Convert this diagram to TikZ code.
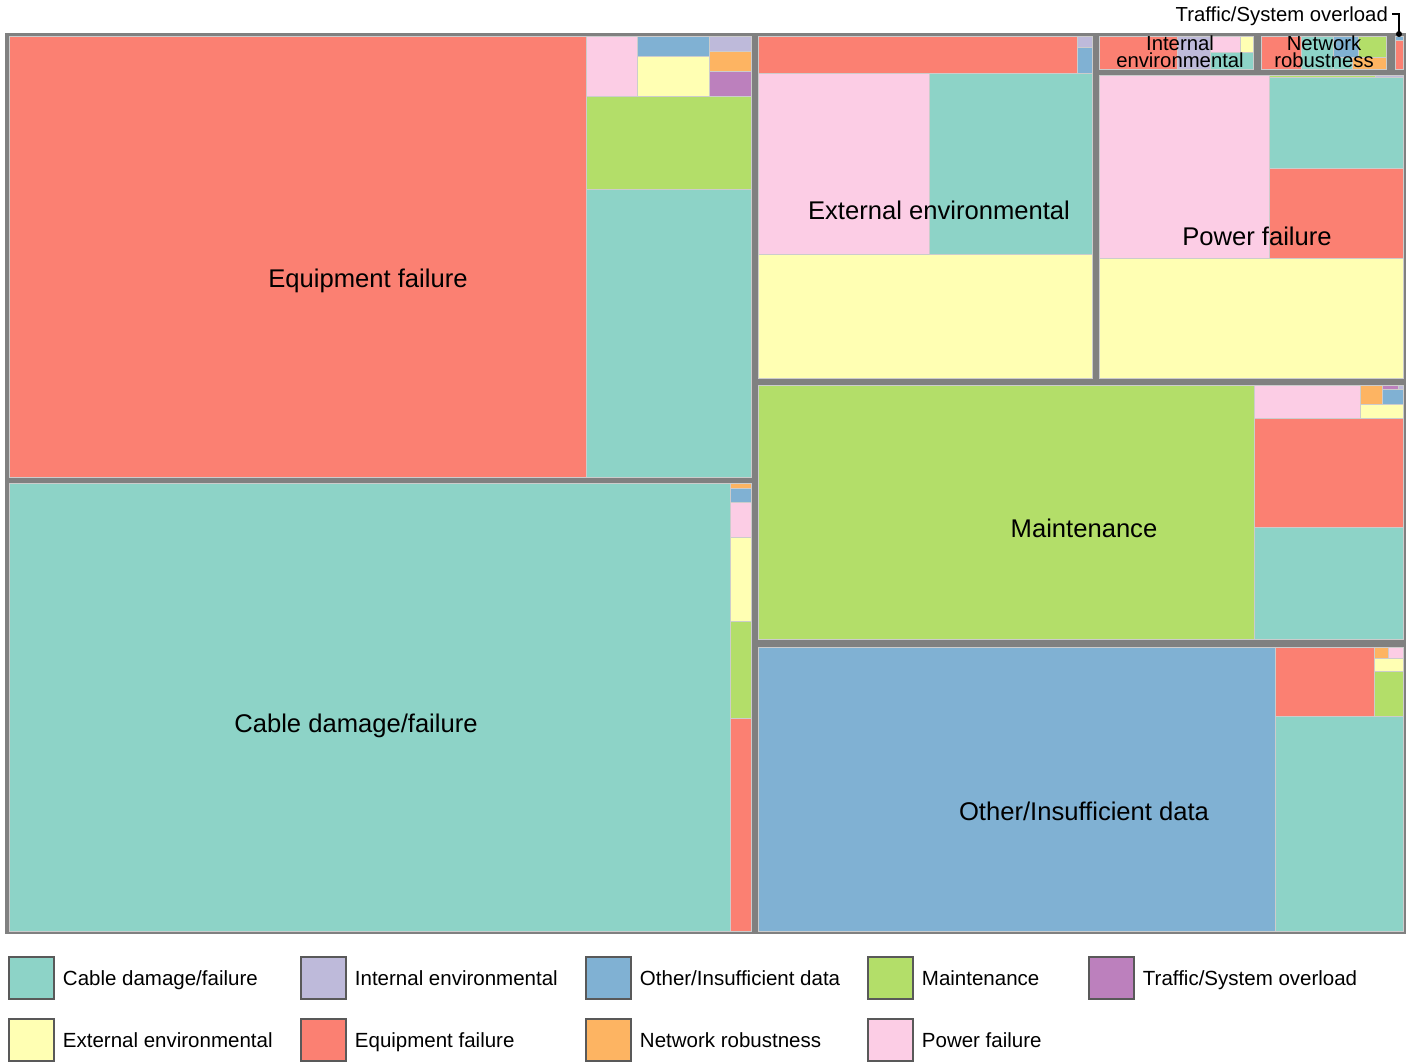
\documentclass[tikz,border=0pt]{standalone}
\usepackage{fontspec}
\setmainfont{Liberation Sans}
\usetikzlibrary{positioning}
\definecolor{setteal}{HTML}{8DD3C7}
\definecolor{setyellow}{HTML}{FFFFB3}
\definecolor{setlavender}{HTML}{BEBADA}
\definecolor{setred}{HTML}{FB8072}
\definecolor{setblue}{HTML}{80B1D3}
\definecolor{setorange}{HTML}{FDB462}
\definecolor{setgreen}{HTML}{B3DE69}
\definecolor{setpink}{HTML}{FCCDE5}
\definecolor{setpurple}{HTML}{BC80BD}
\definecolor{framegray}{HTML}{808080}
\begin{document}
\begin{tikzpicture}[x=1pt, y=-1pt,
			cell/.style={draw=black!20, line width=1pt},
			biglabel/.style={font=\fontsize{25.6}{30}\selectfont, inner sep=0pt},
			smalllabel/.style={font=\fontsize{20.3}{17}\selectfont, inner sep=0pt},
			legbox/.style={draw=black!65, line width=1.5pt, minimum width=45pt, minimum height=42pt, inner sep=0pt},
			legtext/.style={font=\fontsize{20.5}{24}\selectfont, inner sep=0pt, text height=14.7pt, text depth=0pt},
			every text node part/.style={align=center}]
			\useasboundingbox (0,0) rectangle (1411,1061);
			\fill[framegray] (5,33) rectangle (1406,934);
			
			\draw[cell, fill=setred] (9,36) rectangle (586,477);
			\draw[cell, fill=setpink] (586,36) rectangle (637,96);
			\draw[cell, fill=setblue] (637,36) rectangle (709,56);
			\draw[cell, fill=setyellow] (637,56) rectangle (709,96);
			\draw[cell, fill=setlavender] (709,36) rectangle (751,51);
			\draw[cell, fill=setorange] (709,51) rectangle (751,71);
			\draw[cell, fill=setpurple] (709,71) rectangle (751,96);
			\draw[cell, fill=setgreen] (586,96) rectangle (751,189);
			\draw[cell, fill=setteal] (586,189) rectangle (751,477);
			\node[biglabel](equipment) at (368, 281) {Equipment failure};
			
			\draw[cell, fill=setteal] (9,483) rectangle (730,931);
			\draw[cell, fill=setorange] (730,483) rectangle (751,488);
			\draw[cell, fill=setblue] (730,488) rectangle (751,502);
			\draw[cell, fill=setpink] (730,502) rectangle (751,537);
			\draw[cell, fill=setyellow] (730,537) rectangle (751,621);
			\draw[cell, fill=setgreen] (730,621) rectangle (751,718);
			\draw[cell, fill=setred] (730,718) rectangle (751,931);
			\node[biglabel](cable) at (356, 726) {Cable damage/failure};
			
			\draw[cell, fill=setred] (758,36) rectangle (1077,73);
			\draw[cell, fill=setlavender] (1077,36) rectangle (1092,47);
			\draw[cell, fill=setblue] (1077,47) rectangle (1092,73);
			\draw[cell, fill=setpink] (758,73) rectangle (929,254);
			\draw[cell, fill=setteal] (929,73) rectangle (1092,254);
			\draw[cell, fill=setyellow] (758,254) rectangle (1092,378);
			\node[biglabel](external) at (939, 210) {External environmental};
			
			\draw[cell, fill=setred] (1099,36) rectangle (1177,69);
			\draw[cell, fill=setlavender] (1177,36) rectangle (1210,69);
			\draw[cell, fill=setpink] (1210,36) rectangle (1240,52);
			\draw[cell, fill=setyellow] (1240,36) rectangle (1253,52);
			\draw[cell, fill=setteal] (1210,52) rectangle (1253,69);
			\node[smalllabel](internal) at (1180, 51.5) {Internal \\ environmental};
			
			\draw[cell, fill=setred] (1261,36) rectangle (1301,69);
			\draw[cell, fill=setteal] (1301,36) rectangle (1333,69);
			\draw[cell, fill=setblue] (1333,36) rectangle (1358,57);
			\draw[cell, fill=setgreen] (1358,36) rectangle (1386,57);
			\draw[cell, fill=setteal] (1333,57) rectangle (1352,69);
			\draw[cell, fill=setorange] (1352,57) rectangle (1386,69);
			\node[smalllabel](network) at (1324, 51.5) {Network \\ robustness};
			
			\draw[cell, fill=setblue] (1395,36) rectangle (1403,40);
			\draw[cell, fill=setred] (1395,40) rectangle (1403,69);
			\node[smalllabel, anchor=east](traffic) at (1388, 16) {Traffic/System overload};
			\coordinate (trafficdot) at (1399, 34);
			\draw[line width=1.2pt] ([xshift=4pt, yshift=2pt]traffic.east) -| (trafficdot);
			\fill (trafficdot) circle (3pt);
			
			\draw[cell, fill=setpink] (1099,75) rectangle (1269,258);
			\draw[cell, fill=setgreen] (1269,75) rectangle (1375,77);
			\draw[cell, fill=setlavender] (1375,75) rectangle (1403,77);
			\draw[cell, fill=setteal] (1269,77) rectangle (1403,168);
			\draw[cell, fill=setred] (1269,168) rectangle (1403,258);
			\draw[cell, fill=setyellow] (1099,258) rectangle (1403,378);
			\node[biglabel](power) at (1257, 236) {Power failure};
			
			\draw[cell, fill=setgreen] (758,385) rectangle (1254,639);
			\draw[cell, fill=setpink] (1254,385) rectangle (1360,418);
			\draw[cell, fill=setorange] (1360,385) rectangle (1382,404);
			\draw[cell, fill=setpurple] (1382,385) rectangle (1398,389);
			\draw[cell, fill=setlavender] (1398,385) rectangle (1403,389);
			\draw[cell, fill=setblue] (1382,389) rectangle (1403,404);
			\draw[cell, fill=setyellow] (1360,404) rectangle (1403,418);
			\draw[cell, fill=setred] (1254,418) rectangle (1403,527);
			\draw[cell, fill=setteal] (1254,527) rectangle (1403,639);
			\node[biglabel](maintenance) at (1084, 528) {Maintenance};
			
			\draw[cell, fill=setblue] (758,647) rectangle (1275,931);
			\draw[cell, fill=setred] (1275,647) rectangle (1374,716);
			\draw[cell, fill=setorange] (1374,647) rectangle (1388,658);
			\draw[cell, fill=setpink] (1388,647) rectangle (1403,658);
			\draw[cell, fill=setyellow] (1374,658) rectangle (1403,671);
			\draw[cell, fill=setgreen] (1374,671) rectangle (1403,716);
			\draw[cell, fill=setteal] (1275,716) rectangle (1403,931);
			\node[biglabel](other) at (1084, 811) {Other/Insufficient data};
			
			\node[legbox, fill=setteal](legcable) at (31.5, 978) {};
			\node[legtext, right=8pt of legcable](legcabletext) {Cable damage/failure};
			\node[legbox, fill=setlavender](leginternal) at (323.5, 978) {};
			\node[legtext, right=8pt of leginternal](leginternaltext) {Internal environmental};
			\node[legbox, fill=setblue](legother) at (608.5, 978) {};
			\node[legtext, right=8pt of legother](legothertext) {Other/Insufficient data};
			\node[legbox, fill=setgreen](legmaintenance) at (890.5, 978) {};
			\node[legtext, right=8pt of legmaintenance](legmaintenancetext) {Maintenance};
			\node[legbox, fill=setpurple](legtraffic) at (1111.5, 978) {};
			\node[legtext, right=8pt of legtraffic](legtraffictext) {Traffic/System overload};
			
			\node[legbox, fill=setyellow](legexternal) at (31.5, 1040) {};
			\node[legtext, right=8pt of legexternal](legexternaltext) {External environmental};
			\node[legbox, fill=setred](legequipment) at (323.5, 1040) {};
			\node[legtext, right=8pt of legequipment](legequipmenttext) {Equipment failure};
			\node[legbox, fill=setorange](legnetwork) at (608.5, 1040) {};
			\node[legtext, right=8pt of legnetwork](legnetworktext) {Network robustness};
			\node[legbox, fill=setpink](legpower) at (890.5, 1040) {};
			\node[legtext, right=8pt of legpower](legpowertext) {Power failure};
\end{tikzpicture}
\end{document}
